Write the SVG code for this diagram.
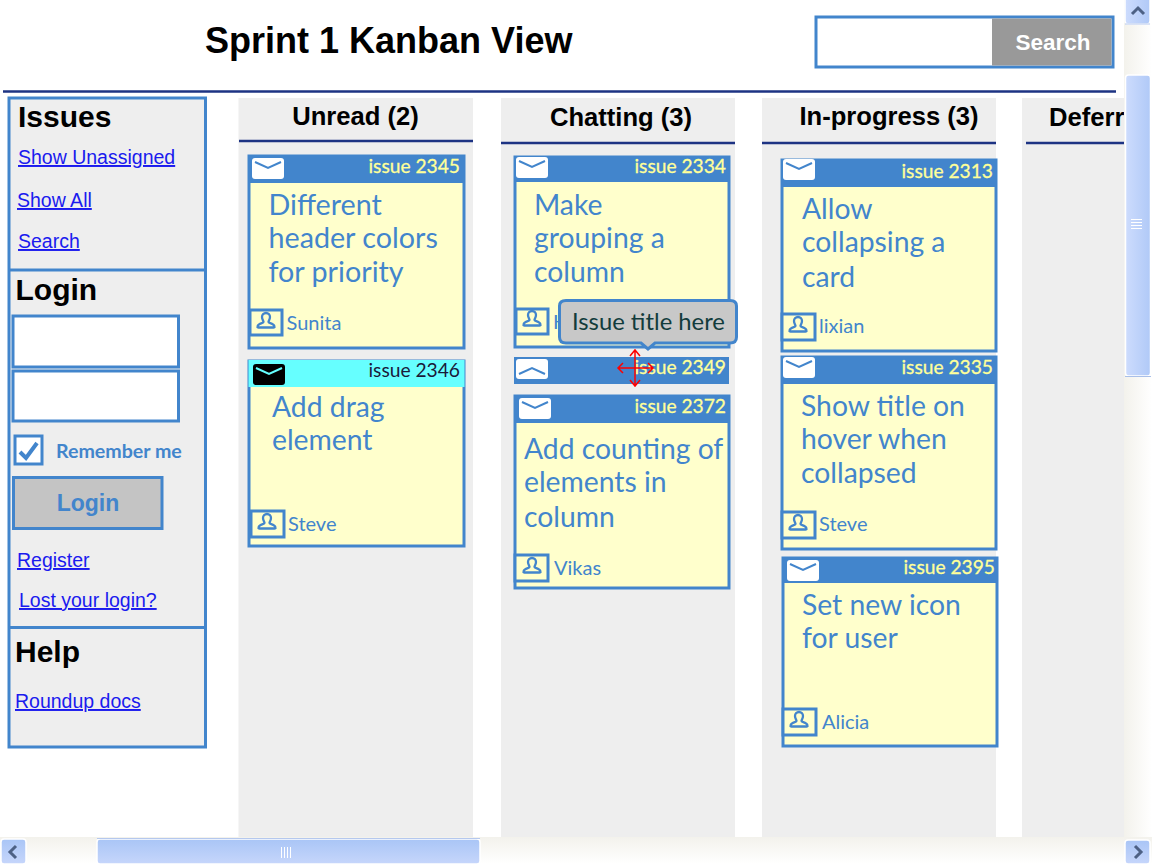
<svg xmlns="http://www.w3.org/2000/svg" width="1152" height="864" viewBox="0 0 1152 864">
<style>
text{font-family:"Liberation Sans",Arial,sans-serif}
.col{fill:#eeeeee}
.hl{stroke:#1d3383;stroke-width:2.5;fill:none}
.ch{font-size:25.6px;font-weight:700;fill:#000;text-anchor:middle}
.box{fill:#eeeeee;stroke:#4285cc;stroke-width:3}
.h2{font-size:30px;font-weight:700;fill:#000}
.lnk{font-size:19.5px;fill:#1a1aee;text-decoration:underline}
.inp{fill:#fff;stroke:#4285cc;stroke-width:3}
.card{fill:#ffffcc;stroke:#4285cc;stroke-width:3}
.hdr{fill:#4285cc}
.t{font-family:Lato,"Open Sans",sans-serif;font-size:28.3px;fill:#4285cc}
.tw{font-size:28.7px}
.n{font-family:Lato,"Open Sans",sans-serif;font-size:19.2px;fill:#ffff99;text-anchor:end;stroke:#ffff99;stroke-width:.3}
.u{font-family:Lato,"Open Sans",sans-serif;font-size:20px;fill:#4285cc}
.ub{fill:#ffffcc;stroke:#4285cc;stroke-width:3}
.gl{stroke:#fff;stroke-width:1;fill:none}
.ar{fill:none;stroke:#4d6185;stroke-width:3}
.red{fill:none;stroke:#ff0000;stroke-width:1.5}
</style>
<defs>
<linearGradient id="gv" x1="0" y1="0" x2="1" y2="0"><stop offset="0" stop-color="#cddcfd"/><stop offset="1" stop-color="#b0c9f7"/></linearGradient>
<linearGradient id="gh" x1="0" y1="0" x2="0" y2="1"><stop offset="0" stop-color="#a9c5f6"/><stop offset="1" stop-color="#c6d6fb"/></linearGradient>
<linearGradient id="tv" x1="0" y1="0" x2="1" y2="0"><stop offset="0" stop-color="#f3f2ec"/><stop offset="1" stop-color="#ffffff"/></linearGradient>
<linearGradient id="th" x1="0" y1="0" x2="0" y2="1"><stop offset="0" stop-color="#f3f2ec"/><stop offset="1" stop-color="#ffffff"/></linearGradient>
<symbol id="mail" viewBox="0 0 32 21" width="32" height="21"><rect x="0" y="0" width="32" height="21" rx="3" fill="#fff"/><path d="M3 4 L16 10 L29 4" fill="none" stroke="#4285cc" stroke-width="2"/></symbol>
<symbol id="mailb" viewBox="0 0 32 21" width="32" height="21"><rect x="0" y="0" width="32" height="21" rx="3" fill="#000"/><path d="M3 4 L16 10 L29 4" fill="none" stroke="#66ffff" stroke-width="2"/></symbol>
<symbol id="up" viewBox="0 0 32 20" width="32" height="20"><rect x="0" y="0" width="32" height="20" rx="3" fill="#fff"/><path d="M3 15 L16 9 L29 15" fill="none" stroke="#4285cc" stroke-width="2"/></symbol>
<g id="usr"><path d="M-4 -5 a4 4 0 0 1 8 0 c0 2.500 -1.500 3.500 -1.500 5 c0 1.500 5 .5 6 4.500 c.3 1 -.3 1 -1 1 h-15 c-.7 0 -1.300 0 -1 -1 c1 -4 6 -3 6 -4.500 c0 -1.500 -1.500 -2.500 -1.500 -5 z" fill="none" stroke="#4285cc" stroke-width="2.300"/></g>
</defs>
<rect width="1152" height="864" fill="#fff"/>
<g id="header">
<text x="205" y="53" font-size="36" font-weight="700" fill="#000">Sprint 1 Kanban View</text>
<rect x="816" y="17" width="297" height="50" fill="#fff" stroke="#4285cc" stroke-width="3"/>
<rect x="992" y="18.500" width="119.500" height="47" fill="#999999"/>
<text x="1053" y="50" font-size="22.500" font-weight="700" fill="#fff" text-anchor="middle">Search</text>
<path d="M3 91.500 H1116" class="hl"/>
</g>
<g id="columns">
<rect class="col" x="238.500" y="98" width="234.500" height="739"/>
<rect class="col" x="501" y="98" width="234" height="739"/>
<rect class="col" x="762" y="98" width="234" height="739"/>
<rect class="col" x="1022" y="98" width="102" height="739"/>
<path class="hl" d="M239 141 H473 M501 143 H735 M762 143 H996 M1026 143 H1124"/>
<text class="ch" x="355.500" y="125">Unread (2)</text>
<text class="ch" x="621" y="126">Chatting (3)</text>
<text class="ch" x="889" y="125">In-progress (3)</text>
<text class="ch" x="1049" y="126" style="text-anchor:start">Deferr</text>
</g>
<g id="sidebar">
<rect class="box" x="9" y="98" width="196.500" height="649"/>
<path d="M9 270 H205.500 M9 627.500 H205.500" stroke="#4285cc" stroke-width="3" fill="none"/>
<text class="h2" x="18" y="127">Issues</text>
<text class="lnk" x="18" y="164">Show Unassigned</text>
<text class="lnk" x="17" y="207">Show All</text>
<text class="lnk" x="18" y="248">Search</text>
<text class="h2" x="15.500" y="300">Login</text>
<rect class="inp" x="13" y="316" width="165.500" height="51"/>
<rect class="inp" x="13" y="371" width="165.500" height="50"/>
<rect x="15" y="436" width="27" height="28" fill="#fff" stroke="#4285cc" stroke-width="3"/>
<path d="M20 452 L26 458 L37 443" fill="none" stroke="#4285cc" stroke-width="4"/>
<text x="56" y="458" font-size="19.600" font-weight="700" fill="#4285cc" style="font-family:Lato,'Open Sans',sans-serif">Remember me</text>
<rect x="13.500" y="477.500" width="148.500" height="51" fill="#c4c4c4" stroke="#4285cc" stroke-width="3"/>
<text x="88" y="511" font-size="23" font-weight="700" fill="#4285cc" text-anchor="middle">Login</text>
<text class="lnk" x="17" y="567">Register</text>
<text class="lnk" x="19" y="607">Lost your login?</text>
<text class="h2" x="15" y="662">Help</text>
<text class="lnk" x="15" y="708">Roundup docs</text>
</g>
<g id="card-2345">
<rect class="card" x="249" y="156" width="215" height="192"/><rect class="hdr" x="248" y="155" width="217" height="28"/>
<use href="#mail" x="252" y="158"/>
<text class="n" x="460" y="173">issue 2345</text>
<text class="t tw" x="268.500" y="214.500">Different</text><text class="t tw" x="268.500" y="247.500">header colors</text><text class="t tw" x="268.500" y="281.500">for priority</text>
<rect class="ub" x="250" y="310" width="32" height="25"/><use href="#usr" x="266" y="322"/>
<text class="u" x="286.500" y="330">Sunita</text>
</g>
<g id="card-2346">
<rect class="card" x="249" y="361" width="215" height="185"/><rect x="248.500" y="360" width="216" height="27" fill="#66ffff"/>
<use href="#mailb" x="253" y="364"/>
<text class="n" x="460" y="377" style="fill:#1a1a3a;stroke:none">issue 2346</text>
<text class="t" x="272" y="417">Add drag</text><text class="t" x="272" y="450">element</text>
<rect class="ub" x="251" y="511" width="33" height="26"/><use href="#usr" x="267" y="523"/>
<text class="u" x="288" y="531">Steve</text>
</g>
<g id="card-2334">
<rect class="card" x="515" y="157" width="214" height="190"/><rect class="hdr" x="514" y="156" width="216" height="26"/>
<use href="#mail" x="516" y="157"/>
<text class="n" x="726" y="173">issue 2334</text>
<text class="t" x="534" y="214.500">Make</text><text class="t" x="534" y="247.500">grouping a</text><text class="t" x="534" y="281.500">column</text>
<rect class="ub" x="516" y="309" width="32" height="25"/><use href="#usr" x="532" y="320"/>
<text class="u" x="553" y="329">H</text>
</g>
<g id="card-2349">
<rect class="hdr" x="514" y="357" width="215" height="27"/>
<use href="#up" x="516" y="359"/>
<text class="n" x="726" y="374">issue 2349</text>
</g>
<g id="card-2372">
<rect class="card" x="515" y="396" width="214" height="192"/><rect class="hdr" x="514" y="395" width="216" height="28"/>
<use href="#mail" x="519" y="398"/>
<text class="n" x="726" y="413">issue 2372</text>
<text class="t" x="524" y="458.500">Add counting of</text><text class="t" x="524" y="491.500">elements in</text><text class="t" x="524" y="526.500">column</text>
<rect class="ub" x="515" y="555" width="33" height="26"/><use href="#usr" x="532" y="567"/>
<text class="u" x="554" y="575">Vikas</text>
</g>
<g id="card-2313">
<rect class="card" x="782" y="160" width="214" height="191"/><rect class="hdr" x="781" y="159" width="216" height="28"/>
<use href="#mail" x="783" y="159"/>
<text class="n" x="993" y="178">issue 2313</text>
<text class="t" x="802" y="218.500">Allow</text><text class="t" x="802" y="251.500">collapsing a</text><text class="t" x="802" y="286.500">card</text>
<rect class="ub" x="782" y="314" width="33" height="26"/><use href="#usr" x="798" y="326"/>
<text class="u" x="819" y="333">lixian</text>
</g>
<g id="card-2335">
<rect class="card" x="782" y="357" width="214" height="192"/><rect class="hdr" x="781" y="356" width="216" height="28"/>
<use href="#mail" x="783" y="357"/>
<text class="n" x="993" y="374">issue 2335</text>
<text class="t" x="801" y="415.500">Show title on</text><text class="t" x="801" y="448.500">hover when</text><text class="t" x="801" y="482.500">collapsed</text>
<rect class="ub" x="782" y="512" width="33" height="26"/><use href="#usr" x="798" y="524"/>
<text class="u" x="819" y="531">Steve</text>
</g>
<g id="card-2395">
<rect class="card" x="783" y="558" width="214" height="188"/><rect class="hdr" x="782" y="557" width="216" height="26"/>
<use href="#mail" x="787" y="560"/>
<text class="n" x="995" y="574">issue 2395</text>
<text class="t" x="802" y="614.500">Set new icon</text><text class="t" x="802" y="647.500">for user</text>
<rect class="ub" x="783" y="709" width="33" height="26"/><use href="#usr" x="799" y="721"/>
<text class="u" x="822" y="729">Alicia</text>
</g>
<g id="tooltip">
<path d="M566 300.500 H730 Q736.500 300.500 736.500 306 V337 Q736.500 343 730 343 H655 L648 349 L641 343 H566 Q559.500 343 559.500 337 V306 Q559.500 300.500 566 300.500 Z" fill="#c8c8c8" stroke="#4285cc" stroke-width="3"/>
<text x="572" y="330" style="font-family:Lato,'Open Sans',sans-serif" font-size="23.800" fill="#123c3c">Issue title here</text>
</g>
<g id="move-cursor">
<path class="red" d="M635 351 V385 M618 368 H653 M630 356 L635 350 L640 356 M630 380 L635 386 L640 380 M623 363 L618 368 L623 373 M648 363 L653 368 L648 373"/>
</g>
<g id="scrollbars">
<rect x="1124" y="0" width="28" height="837" fill="url(#tv)"/>
<rect x="0" y="837" width="1152" height="27" fill="url(#th)"/>
<rect x="1125" y="-3" width="25" height="27" rx="3" fill="url(#gv)" stroke="#fff" stroke-width="1.500"/>
<path d="M1125 24 H1150" stroke="#b5c8ee" fill="none"/>
<path class="ar" d="M1132 14 L1138 8 L1144 14"/>
<rect x="1125.500" y="75" width="25" height="301" rx="3" fill="url(#gv)" stroke="#fff" stroke-width="1.500"/>
<path d="M1125 376.500 H1151" stroke="#a9bfe8" fill="none"/>
<path class="gl" d="M1131 219.500 H1142 M1131 222.500 H1142 M1131 225.500 H1142 M1131 228.500 H1142"/>
<rect x="1" y="839" width="25" height="25" rx="3" fill="url(#gh)" stroke="#fff" stroke-width="1.500"/>
<path class="ar" d="M16 846 L10 852 L16 858"/>
<rect x="97" y="839" width="383" height="25" rx="3" fill="url(#gh)" stroke="#fff" stroke-width="1.500"/>
<path d="M97 838.500 H480" stroke="#b5c8ee" fill="none"/>
<path class="gl" d="M281.500 847 V858 M284.500 847 V858 M287.500 847 V858 M290.500 847 V858"/>
<rect x="1125" y="840" width="25" height="24" rx="3" fill="url(#gh)" stroke="#fff" stroke-width="1.500"/>
<path class="ar" d="M1135 846 L1141 852 L1135 858"/>
</g>
</svg>
